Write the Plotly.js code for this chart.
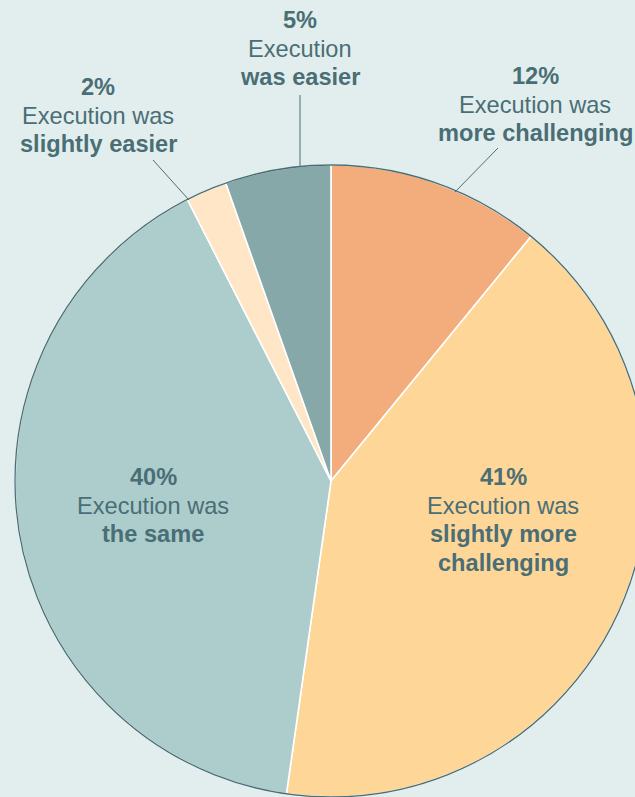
<!DOCTYPE html>
<html>
<head>
<meta charset="utf-8">
<script src="https://cdn.plot.ly/plotly-3.0.1.min.js"></script>
<style>
  html, body { margin: 0; padding: 0; overflow: hidden; background: #E2EEEE; width: 635px; height: 797px; }
  #chart { width: 657px; height: 802px; }
</style>
</head>
<body>
<div id="chart"></div>
<script>
// ---- data (slice shares, clockwise from 12 o'clock) ----
const categories = [
  "Execution was more challenging",
  "Execution was slightly more challenging",
  "Execution was the same",
  "Execution was slightly easier",
  "Execution was easier"
];
const sliceValues = [10.9, 41.3, 40.2, 2.1, 5.4];
const percentLabels = ["12%", "41%", "40%", "2%", "5%"];
const labelLines = [
  ["Execution was", "<b>more challenging</b>"],
  ["Execution was", "<b>slightly more</b>", "<b>challenging</b>"],
  ["Execution was", "<b>the same</b>"],
  ["Execution was", "<b>slightly easier</b>"],
  ["Execution", "<b>was easier</b>"]
];
const sliceColors = ["#F3AD7C", "#FED798", "#ACCDCC", "#FEE6C6", "#87A8A9"];

// ---- layout geometry (pixels in the 657x802 figure) ----
const M = {l: 15, r: 10, t: 165, b: 5};
const W = 657, H = 802;
const PW = W - M.l - M.r, PH = H - M.t - M.b;
const px = x => (x - M.l) / PW;
const py = y => (H - M.b - y) / PH;

const textColor = "#4A6E75";
const fontFamily = "'Liberation Sans', Arial, Helvetica, sans-serif";
const fontSize = 23.6;
const lineGap = 28.6;

// label anchor: centre x and y of the first (percentage) line
const labelPos = [
  {x: 535, y: 76},
  {x: 503, y: 477},
  {x: 153, y: 477},
  {x: 98,  y: 87},
  {x: 300, y: 20}
];
// leader lines for outside labels [x0,y0,x1,y1]
const leaders = [
  [498, 148, 455, 192],
  null,
  null,
  [153, 160, 189, 200],
  [300, 95, 300, 166]
];

const annotations = [];
percentLabels.forEach((p, i) => {
  const lines = ["<b>" + p + "</b>"].concat(labelLines[i]);
  lines.forEach((t, j) => {
    annotations.push({
      xref: "paper", yref: "paper",
      x: px(labelPos[i].x), y: py(labelPos[i].y + j * lineGap),
      xanchor: "center", yanchor: "middle",
      text: t, showarrow: false,
      font: {family: fontFamily, size: fontSize, color: textColor}
    });
  });
});

const shapes = leaders.filter(Boolean).map(l => ({
  type: "line", xref: "paper", yref: "paper",
  x0: px(l[0]), y0: py(l[1]), x1: px(l[2]), y1: py(l[3]),
  line: {color: textColor, width: 1}
}));

const traces = [
  {
    type: "pie",
    labels: categories,
    values: sliceValues,
    sort: false,
    direction: "clockwise",
    rotation: 0,
    textinfo: "none",
    hoverinfo: "label+percent",
    marker: {colors: sliceColors, line: {color: "#FFFFFF", width: 1.6}},
    domain: {x: [0, 1], y: [0, 1]},
    showlegend: false
  },
  {
    type: "pie",
    labels: ["outline"],
    values: [1],
    textinfo: "none",
    hoverinfo: "skip",
    marker: {colors: ["rgba(0,0,0,0)"], line: {color: textColor, width: 1.3}},
    domain: {x: [0, 1], y: [0, 1]},
    showlegend: false
  }
];

const layout = {
  width: W, height: H,
  margin: M,
  paper_bgcolor: "#E2EEEE",
  plot_bgcolor: "#E2EEEE",
  showlegend: false,
  annotations: annotations,
  shapes: shapes
};

Plotly.newPlot("chart", traces, layout, {displayModeBar: false, staticPlot: true});
</script>
</body>
</html>
